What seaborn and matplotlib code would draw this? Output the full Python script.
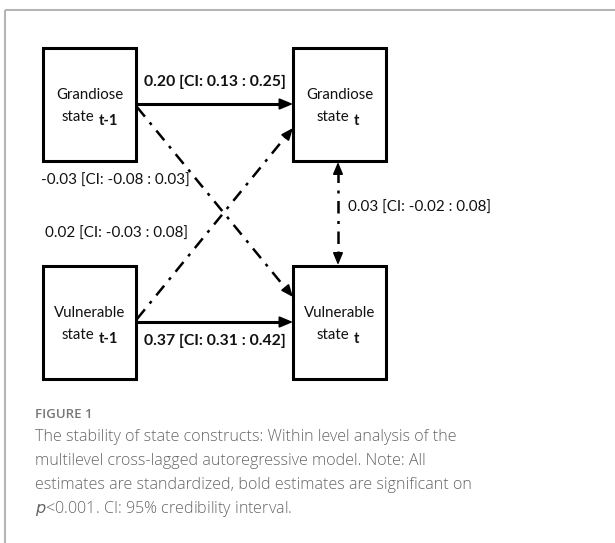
import matplotlib
matplotlib.use("Agg")
import matplotlib.pyplot as plt
import seaborn as sns
import numpy as np
from matplotlib.patches import Rectangle

# ---- data ----
node_names = ["Grandiose", "Grandiose", "Vulnerable", "Vulnerable"]
node_subs = ["t-1", "t", "t-1", "t"]
path_est = [0.20, 0.37, -0.03, 0.02, 0.03]
path_lo = [0.13, 0.31, -0.08, -0.03, -0.02]
path_hi = [0.25, 0.42, 0.03, 0.08, 0.08]
path_sig = [True, True, False, False, False]

caption_title = "FIGURE 1"
caption_lines = [
    "The stability of state constructs: Within level analysis of the",
    "multilevel cross-lagged autoregressive model. Note: All",
    "estimates are standardized, bold estimates are significant on",
    "$\\it{p}$<0.001. CI: 95% credibility interval.",
]

sns.set_theme(style="white")
plt.rcParams['font.family'] = ['Lato', 'DejaVu Sans']

fig = plt.figure(figsize=(6.15, 5.43), dpi=100)
ax = fig.add_axes([0, 0, 1, 1])
ax.set_xlim(0, 615)
ax.set_ylim(543, 0)
ax.axis("off")

# frame lines
ax.plot([5, 5], [10, 543], color="#b5b5b5", lw=1.5, solid_capstyle="butt")
ax.plot([5, 615], [10, 10], color="#b5b5b5", lw=1.5, solid_capstyle="butt")

# layout (positions)
bx = [(43, 48), (293, 48), (43, 266), (293, 266)]
bw, bh = 93, 113
for (x0, y0), name, sub in zip(bx, node_names, node_subs):
    ax.add_patch(Rectangle((x0, y0), bw, bh, fill=False, ec="black", lw=2.2))
    cx = x0 + bw / 2
    ax.text(cx, y0 + 47, name, ha="center", va="center", fontsize=10.8, color="#111")
    sx = cx + (13 if sub == "t" else 8)
    ax.text(sx - 3, y0 + 69, "state", ha="right", va="center", fontsize=10.8, color="#111")
    ax.text(sx + 1, y0 + 73, sub, ha="left", va="center", fontsize=10.5,
            fontweight="bold", color="#111")

def label(i):
    return f"{path_est[i]:.2f} [CI: {path_lo[i]:.2f} : {path_hi[i]:.2f}]"

def head(x1, y1, x0, y0, scale=1.0):
    d = np.array([x1 - x0, y1 - y0], float)
    d /= np.hypot(*d)
    start = (x1 - d[0] * 9, y1 - d[1] * 9)
    ax.annotate("", xy=(x1, y1), xytext=start,
                arrowprops=dict(arrowstyle=f"-|>,head_length={0.6*scale},head_width={0.25*scale}",
                                color="black", lw=1.2, shrinkA=0, shrinkB=0))

dashdot = (0, (5, 3, 1.2, 3))
# solid autoregressive paths
for yy in [104, 322]:
    ax.plot([136, 284], [yy, yy], color="black", lw=2.2)
    head(293, yy, 136, yy, 1.15)

# cross-lagged paths
ax.plot([137, 287], [107, 290], color="black", lw=1.8, linestyle=dashdot)
head(293, 297, 137, 107)
ax.plot([137, 287], [319, 135], color="black", lw=1.8, linestyle=dashdot)
head(293, 128, 137, 319)

# correlation double arrow
ax.plot([338, 338], [170, 257], color="black", lw=1.8, linestyle=dashdot)
head(338, 162, 338, 266)
head(338, 265, 338, 161)

for i, (x, y, ha) in enumerate([(215, 82, "center"), (215, 341, "center"),
                                 (41, 181, "left"), (45, 234, "left"), (348, 208, "left")]):
    ax.text(x, y, label(i), ha=ha, va="center",
            fontsize=11.3 if path_sig[i] else 10.9,
            fontweight="bold" if path_sig[i] else "normal", color="#111")

# caption
ax.text(35, 414, caption_title, ha="left", va="center", fontsize=9.5,
        color="#777", family=["Open Sans", "DejaVu Sans"], fontweight="semibold")
for k, line in enumerate(caption_lines):
    ax.text(35, 437 + 24 * k, line, ha="left", va="center", fontsize=11.6,
            color="#666", family=["Open Sans", "DejaVu Sans"], fontweight="light")

fig.savefig("out.png", dpi=100)
